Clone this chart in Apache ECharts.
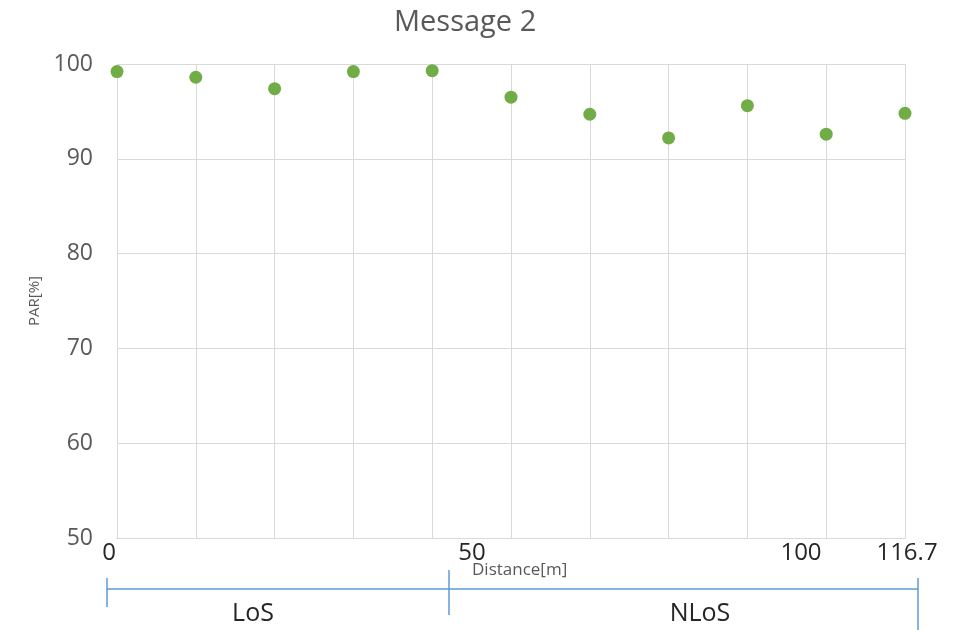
<!DOCTYPE html>
<html>
<head>
<meta charset="utf-8">
<script src="https://cdn.jsdelivr.net/npm/echarts@6/dist/echarts.min.js"></script>
<style>
  html, body { margin: 0; padding: 0; background: #fff; }
  #chart { width: 964px; height: 630px; }
</style>
</head>
<body>
<div id="chart"></div>
<script>
// Measurement positions along the track (evenly spaced points)
const positions = ['0', '11.7', '23.3', '35', '46.7', '58.3', '70', '81.7', '93.3', '105', '116.7'];
// PAR in percent at each position
const parValues = [99.2, 98.6, 97.4, 99.2, 99.3, 96.5, 94.7, 92.2, 95.6, 92.6, 94.8];
// Distance labels written under the axis
const distanceLabels = ['0', '50', '100', '116.7'];
const distanceLabelX = [109, 472, 801, 907];
// Line-of-sight regions
const regionNames = ['LoS', 'NLoS'];
const regionX = [253, 700];

const FONT = "'Open Sans', 'Noto Sans', sans-serif";
const chart = echarts.init(document.getElementById('chart'));

const graphics = [];
distanceLabels.forEach((t, i) => {
  graphics.push({
    type: 'text', x: distanceLabelX[i], y: 553,
    style: { text: t, align: 'center', verticalAlign: 'middle', fill: '#262626', font: '24px ' + FONT }
  });
});
graphics.push({
  type: 'text', x: 472, y: 570,
  style: { text: 'Distance[m]', align: 'left', verticalAlign: 'middle', fill: '#595959', font: '17px ' + FONT }
});
// Bracket marking the LoS / NLoS stretches
const blue = '#5B9BD5';
const bracketStyle = { stroke: blue, lineWidth: 1.5 };
graphics.push(
  { type: 'line', shape: { x1: 107, y1: 589, x2: 918, y2: 589 }, style: bracketStyle },
  { type: 'line', shape: { x1: 107, y1: 578, x2: 107, y2: 607 }, style: bracketStyle },
  { type: 'line', shape: { x1: 449, y1: 570, x2: 449, y2: 615 }, style: bracketStyle },
  { type: 'line', shape: { x1: 918, y1: 578, x2: 918, y2: 630 }, style: bracketStyle }
);
regionNames.forEach((t, i) => {
  graphics.push({
    type: 'text', x: regionX[i], y: 614,
    style: { text: t, align: 'center', verticalAlign: 'middle', fill: '#262626', font: '25px ' + FONT }
  });
});

chart.setOption({
  animation: false,
  title: {
    text: 'Message 2', left: 389, top: 3,
    textStyle: { fontFamily: FONT, fontSize: 29, fontWeight: 'normal', color: '#595959' }
  },
  grid: { left: 117, right: 59, top: 64, bottom: 92 },
  xAxis: {
    type: 'category', data: positions, boundaryGap: false,
    axisLine: { show: true, lineStyle: { color: '#d9d9d9' } },
    axisTick: { show: false }, axisLabel: { show: false },
    splitLine: { show: true, lineStyle: { color: '#d9d9d9', width: 1 } }
  },
  yAxis: {
    type: 'value', min: 50, max: 100, interval: 10,
    name: 'PAR[%]', nameLocation: 'middle', nameGap: 74, nameRotate: 90,
    nameTextStyle: { fontFamily: FONT, fontSize: 15, color: '#595959' },
    axisLine: { show: false }, axisTick: { show: false },
    axisLabel: { fontFamily: FONT, fontSize: 23, color: '#595959', margin: 24 },
    splitLine: { lineStyle: { color: '#d9d9d9', width: 1 } }
  },
  series: [{
    type: 'scatter', data: parValues, symbolSize: 13,
    itemStyle: { color: '#70AD47', opacity: 1 }
  }],
  graphic: graphics
});
</script>
</body>
</html>
